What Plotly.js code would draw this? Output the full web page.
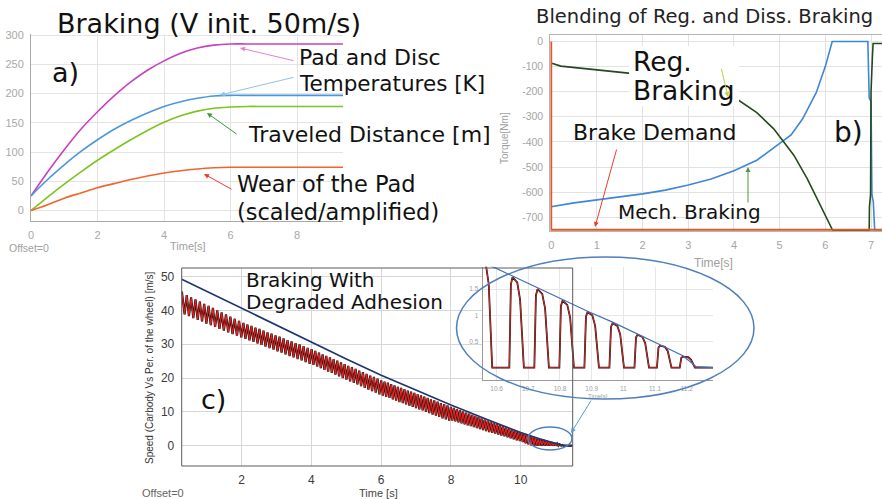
<!DOCTYPE html>
<html>
<head>
<meta charset="utf-8">
<script src="https://cdn.plot.ly/plotly-3.0.1.min.js"></script>
<style>html,body{margin:0;padding:0;background:#fff;}#chart{width:882px;height:499px;}</style>
</head>
<body>
<div id="chart"></div>
<script>
// ---------- Panel a) Braking (V init. 50m/s) ----------
const aTime = [0, 0.5, 1, 1.5, 2, 2.5, 3, 3.5, 4, 4.5, 5, 5.5, 6, 6.5, 7, 8, 9.38];
const aPadTemp = [25, 66, 104, 139, 169, 196, 220, 240, 256, 269, 278, 283, 285, 285, 285, 285, 285];
const aDiscTemp = [25, 53, 78, 101, 121, 139, 154, 167, 178, 186, 192, 196, 197, 197, 197, 197, 197];
const aDistance = [0, 23, 45, 66, 86, 104, 121, 137, 151, 162, 170, 175, 177, 178, 178, 178, 178];
const aWear = [0, 10, 21, 30, 39, 46, 53, 59, 64, 68, 71, 73, 74, 74, 74, 74, 74];
const aTicksX = [0, 2, 4, 6, 8];
const aTicksY = [0, 50, 100, 150, 200, 250, 300];

// ---------- Panel b) Blending of Reg. and Diss. Braking ----------
const bDemandT = [0, 0, 7.24];
const bDemandV = [0, -750, -750];
const bMechT = [0, 0.03, 0.5, 1, 1.5, 2, 2.5, 3, 3.5, 4, 4.5, 5, 5.25, 5.5, 5.8, 6.0, 6.15, 6.93, 6.96, 7.0, 7.02, 7.05, 7.08, 7.24];
const bMechV = [-660, -657, -643, -631, -620, -607, -592, -572, -548, -515, -473, -407, -372, -309, -204, -99, 0, 0, -225, -240, -610, -640, -750, -750];
const bRegT = [0, 0.03, 0.21, 0.5, 0.87, 1.2, 1.74, 2.2, 2.7, 3.2, 3.6, 4.07, 4.5, 4.87, 5.31, 5.6, 5.89, 6.14, 6.16, 6.96, 6.965, 6.99, 7.0, 7.03, 7.045, 7.24];
const bRegV = [-85, -88, -98, -103, -111, -117, -127, -140, -155, -175, -198, -230, -283, -348, -453, -545, -651, -742, -752, -752, -660, -610, -200, -60, -8, -8];
const bTicksX = [0, 1, 2, 3, 4, 5, 6, 7];
const bTicksY = [0, -100, -200, -300, -400, -500, -600, -700];
const bTickTextY = ['0', '-100', '-200', '-300', '-400', '-500', '-600', '-700'];

// ---------- Panel c) Braking with degraded adhesion ----------
const cCarbodyT = [0.28, 1, 2, 3, 4, 5, 6, 7, 8, 9, 10, 10.56, 11.0, 11.23, 11.49];
const cCarbodyV = [49.2, 45.6, 40.5, 35.5, 30.5, 25.6, 20.8, 16.3, 12.0, 7.9, 3.9, 2.0, 0.72, 0.02, 0];
const cWheelT = [
  0.285, 0.363, 0.425, 0.488, 0.550, 0.613, 0.675, 0.738, 0.800, 0.863, 0.925, 0.988, 1.050, 1.113, 1.175, 1.238, 1.300, 1.363, 1.425, 1.488, 1.550, 1.613, 1.675, 1.738, 1.800, 1.863, 1.925, 1.988,
  2.050, 2.108, 2.165, 2.223, 2.280, 2.338, 2.395, 2.453, 2.510, 2.568, 2.625, 2.683, 2.740, 2.798, 2.855, 2.913, 2.970, 3.028, 3.085, 3.143, 3.200, 3.258, 3.315, 3.373, 3.430, 3.488, 3.545, 3.603, 3.660, 3.718, 3.775, 3.833, 3.890, 3.948,
  4.005, 4.058, 4.110, 4.163, 4.215, 4.268, 4.320, 4.373, 4.425, 4.478, 4.530, 4.583, 4.635, 4.688, 4.740, 4.793, 4.845, 4.898, 4.950, 5.003, 5.055, 5.108, 5.160, 5.213, 5.265, 5.318, 5.370, 5.423, 5.475, 5.528, 5.580, 5.633, 5.685, 5.738, 5.790, 5.843, 5.895, 5.948,
  6.000, 6.048, 6.095, 6.143, 6.190, 6.238, 6.285, 6.333, 6.380, 6.428, 6.475, 6.523, 6.570, 6.618, 6.665, 6.713, 6.760, 6.808, 6.855, 6.903, 6.950, 6.998, 7.045, 7.093, 7.140, 7.188, 7.235, 7.283, 7.330, 7.378, 7.425, 7.473, 7.520, 7.568, 7.615, 7.663, 7.710, 7.758, 7.805, 7.853, 7.900, 7.948,
  7.995, 8.039, 8.083, 8.127, 8.171, 8.215, 8.259, 8.303, 8.347, 8.391, 8.435, 8.479, 8.523, 8.567, 8.611, 8.655, 8.699, 8.743, 8.787, 8.831, 8.875, 8.919, 8.963, 9.007, 9.051, 9.095, 9.139, 9.183, 9.227, 9.271, 9.315, 9.359, 9.403, 9.447, 9.491, 9.535, 9.579, 9.623, 9.667, 9.711, 9.755, 9.799, 9.843, 9.887, 9.931, 9.975,
  10.019, 10.059, 10.099, 10.139, 10.179, 10.219, 10.259, 10.299, 10.339, 10.379, 10.419, 10.459, 10.499, 10.539, 10.568, 10.61, 10.650, 10.69, 10.729, 10.77, 10.808, 10.85, 10.887, 10.93, 10.966, 11.0, 11.045, 11.08, 11.116, 11.16, 11.188, 11.23, 11.49
];
const cWheelV = [
  45.5, 38.8, 44.5, 38.3, 43.8, 37.7, 43.2, 37.2, 42.6, 36.7, 41.9, 36.1, 41.3, 35.6, 40.7, 35.1, 40.0, 34.5, 39.4, 34.0, 38.8, 33.5, 38.1, 33.0, 37.5, 32.5, 36.9, 32.0,
  36.3, 31.6, 35.8, 31.1, 35.4, 30.7, 34.9, 30.2, 34.5, 29.8, 34.0, 29.3, 33.5, 28.8, 33.1, 28.4, 32.6, 27.9, 32.2, 27.5, 31.7, 27.0, 31.2, 26.5, 30.8, 26.1, 30.3, 25.6, 29.9, 25.2, 29.4, 24.7, 28.9, 24.2,
  28.5, 23.9, 28.0, 23.4, 27.5, 22.9, 27.0, 22.4, 26.5, 21.9, 26.1, 21.5, 25.6, 21.0, 25.1, 20.5, 24.6, 20.0, 24.1, 19.5, 23.6, 19.0, 23.2, 18.6, 22.7, 18.1, 22.2, 17.6, 21.7, 17.1, 21.2, 16.6, 20.7, 16.1, 20.3, 15.7, 19.8, 15.2,
  19.3, 14.8, 18.9, 14.4, 18.6, 14.1, 18.2, 13.7, 17.8, 13.3, 17.4, 12.9, 17.1, 12.6, 16.7, 12.2, 16.3, 11.8, 16.0, 11.5, 15.6, 11.1, 15.2, 10.7, 14.9, 10.4, 14.5, 10.0, 14.1, 9.6, 13.7, 9.2, 13.4, 8.9, 13.0, 8.5, 12.6, 8.1, 12.3, 7.8, 11.9, 7.4,
  11.5, 7.4, 11.2, 7.2, 10.8, 6.9, 10.5, 6.6, 10.1, 6.3, 9.8, 6.0, 9.5, 5.8, 9.1, 5.5, 8.8, 5.2, 8.4, 4.9, 8.1, 4.6, 7.7, 4.3, 7.4, 4.0, 7.1, 3.8, 6.8, 3.6, 6.4, 3.3, 6.1, 3.0, 5.8, 2.8, 5.4, 2.5, 5.1, 2.2, 4.8, 1.9, 4.5, 1.6, 4.2, 1.4,
  3.8, 1.1, 3.5, 0.7, 3.2, 0.4, 2.9, 0.1, 2.7, 0, 2.4, 0, 2.1, 0, 1.95, 0, 1.73, 0, 1.50, 0, 1.28, 0, 1.06, 0, 0.85, 0, 0.63, 0, 0.42, 0, 0.21, 0, 0
];
const cTicksX = [2, 4, 6, 8, 10];
const cTicksY = [0, 10, 20, 30, 40, 50];

// ---------- Zoomed inset (end of braking) ----------
const zWheelT = [
  10.556, 10.566, 10.575, 10.582, 10.586,
  10.640, 10.645, 10.650, 10.665, 10.674, 10.682, 10.686,
  10.719, 10.724, 10.729, 10.744, 10.753, 10.761, 10.765,
  10.798, 10.803, 10.808, 10.823, 10.832, 10.840, 10.844,
  10.877, 10.882, 10.887, 10.902, 10.911, 10.919, 10.923,
  10.956, 10.961, 10.966, 10.981, 10.990, 10.998, 11.002,
  11.035, 11.040, 11.045, 11.060, 11.069, 11.077, 11.081,
  11.106, 11.111, 11.116, 11.131, 11.140, 11.148, 11.152,
  11.178, 11.183, 11.188, 11.205, 11.214, 11.222, 11.226,
  11.283
];
const zWheelV = [
  2.05, 1.97, 1.60, 0.50, 0,
  0, 1.59, 1.73, 1.63, 1.30, 0.43, 0,
  0, 1.38, 1.50, 1.41, 1.13, 0.38, 0,
  0, 1.18, 1.28, 1.20, 0.96, 0.32, 0,
  0, 0.98, 1.06, 1.00, 0.80, 0.27, 0,
  0, 0.78, 0.85, 0.80, 0.64, 0.21, 0,
  0, 0.58, 0.63, 0.59, 0.47, 0.16, 0,
  0, 0.39, 0.42, 0.40, 0.32, 0.11, 0,
  0, 0.19, 0.21, 0.20, 0.15, 0.05, 0,
  0
];
const zCarbodyT = [10.556, 10.650, 10.729, 10.808, 10.887, 10.966, 11.045, 11.116, 11.188, 11.23, 11.283];
const zCarbodyV = [2.02, 1.75, 1.52, 1.30, 1.08, 0.87, 0.65, 0.44, 0.23, 0.02, 0];
const zTicksX = [10.6, 10.7, 10.8, 10.9, 11, 11.1, 11.2];
const zTicksY = [0.5, 1, 1.5];

// ---------- helpers (pixel -> paper) ----------
const W = 882, H = 499;
const X = p => p / W;
const Y = p => 1 - p / H;

const traces = [
  {x: aTime, y: aPadTemp, xaxis: 'x', yaxis: 'y', mode: 'lines', line: {color: '#c642c0', width: 1.6, shape: 'spline'}},
  {x: aTime, y: aDiscTemp, xaxis: 'x', yaxis: 'y', mode: 'lines', line: {color: '#4b97dc', width: 1.6, shape: 'spline'}},
  {x: aTime, y: aDistance, xaxis: 'x', yaxis: 'y', mode: 'lines', line: {color: '#7cc41f', width: 1.6, shape: 'spline'}},
  {x: aTime, y: aWear, xaxis: 'x', yaxis: 'y', mode: 'lines', line: {color: '#f0642e', width: 1.6, shape: 'spline'}},

  {x: bMechT, y: bMechV, xaxis: 'x2', yaxis: 'y2', mode: 'lines', line: {color: '#3f86d6', width: 1.6}},
  {x: bRegT, y: bRegV, xaxis: 'x2', yaxis: 'y2', mode: 'lines', line: {color: '#244a1c', width: 1.6}},
  {x: bDemandT, y: bDemandV, xaxis: 'x2', yaxis: 'y2', mode: 'lines', line: {color: '#dc5a26', width: 2}},

  {x: cWheelT, y: cWheelV, xaxis: 'x3', yaxis: 'y3', mode: 'lines', line: {color: '#111111', width: 2.2}},
  {x: cWheelT, y: cWheelV, xaxis: 'x3', yaxis: 'y3', mode: 'lines', line: {color: '#e8231f', width: 1.1}},
  {x: cCarbodyT, y: cCarbodyV, xaxis: 'x3', yaxis: 'y3', mode: 'lines', line: {color: '#1d3573', width: 1.6}},

  {x: zWheelT, y: zWheelV, xaxis: 'x4', yaxis: 'y4', mode: 'lines', line: {color: '#2a1010', width: 1.8}},
  {x: zWheelT, y: zWheelV, xaxis: 'x4', yaxis: 'y4', mode: 'lines', line: {color: '#d8302a', width: 0.9}},
  {x: zCarbodyT, y: zCarbodyV, xaxis: 'x4', yaxis: 'y4', mode: 'lines', line: {color: '#3e6fb5', width: 1.2}}
];

const lightTick = {family: 'Liberation Sans, Arial, sans-serif', size: 11, color: '#a8a8a8'};
const hidTicks = {ticks: 'outside', ticklen: 4, tickcolor: 'rgba(0,0,0,0)', zeroline: false, showgrid: true};

const layout = {
  width: W, height: H,
  margin: {l: 0, r: 0, t: 0, b: 0},
  paper_bgcolor: '#ffffff', plot_bgcolor: '#ffffff',
  showlegend: false,
  xaxis: Object.assign({domain: [X(31), X(343)], range: [0, 9.38], anchor: 'y', tickvals: aTicksX,
    gridcolor: '#e4e4e4', showline: true, linecolor: '#a9a9a9', tickfont: lightTick}, hidTicks),
  yaxis: Object.assign({domain: [Y(221), Y(34)], range: [-18, 302], anchor: 'x', tickvals: aTicksY,
    gridcolor: '#e4e4e4', showline: true, linecolor: '#a9a9a9', tickfont: lightTick}, hidTicks),

  xaxis2: Object.assign({domain: [X(550.3), 1], range: [-0.02, 7.24], anchor: 'y2', tickvals: bTicksX,
    gridcolor: '#e2e2e2', showline: true, mirror: true, linecolor: '#b5b5b5', tickfont: {family: 'Liberation Sans, Arial, sans-serif', size: 11, color: '#a5a5a5'}}, hidTicks),
  yaxis2: Object.assign({domain: [Y(231), Y(35)], range: [-755, 26], anchor: 'x2', tickvals: bTicksY, ticktext: bTickTextY,
    gridcolor: '#e2e2e2', showline: true, linecolor: '#b5b5b5', tickfont: {family: 'Liberation Sans, Arial, sans-serif', size: 10.5, color: '#a5a5a5'}}, hidTicks),

  xaxis3: Object.assign({domain: [X(181.7), X(572.7)], range: [0.28, 11.49], anchor: 'y3', tickvals: cTicksX,
    gridcolor: '#d6d6d6', showline: false, tickfont: {family: 'Liberation Sans, Arial, sans-serif', size: 12, color: '#3c3c3c'}}, hidTicks, {ticklen: 3}),
  yaxis3: Object.assign({domain: [Y(466), Y(268)], range: [-6, 52.5], anchor: 'x3', tickvals: cTicksY,
    gridcolor: '#d6d6d6', showline: false, tickfont: {family: 'Liberation Sans, Arial, sans-serif', size: 12, color: '#3c3c3c'}}, hidTicks),

  xaxis4: {domain: [X(482.7), X(713)], range: [10.556, 11.283], anchor: 'y4', tickvals: zTicksX,
    showgrid: true, gridcolor: '#e6e6e6', zeroline: false, showline: true, linecolor: '#9a9a9a',
    ticks: 'outside', ticklen: 2, tickcolor: 'rgba(0,0,0,0)',
    tickfont: {family: 'Liberation Sans, Arial, sans-serif', size: 6.5, color: '#a0a0a0'}},
  yaxis4: {domain: [Y(380), Y(266.7)], range: [-0.235, 1.93], anchor: 'x4', tickvals: zTicksY,
    showgrid: true, gridcolor: '#e6e6e6', zeroline: false, showline: true, linecolor: '#9a9a9a',
    ticks: 'outside', ticklen: 2, tickcolor: 'rgba(0,0,0,0)',
    tickfont: {family: 'Liberation Sans, Arial, sans-serif', size: 6.5, color: '#a0a0a0'}},

  shapes: [
    // white box behind the "Reg. Braking" label (hides the curve there, as in the reference)
    {type: 'rect', xref: 'paper', yref: 'paper', x0: X(629), x1: X(739), y0: Y(106), y1: Y(46),
      line: {width: 0}, fillcolor: '#ffffff', layer: 'above'},
    {type: 'rect', xref: 'paper', yref: 'paper', x0: X(181.7), x1: X(572.7), y0: Y(466), y1: Y(268),
      line: {color: '#5a5a5a', width: 1}, layer: 'above'},
    {type: 'circle', xref: 'paper', yref: 'paper', x0: X(456.5), x1: X(754), y0: Y(399), y1: Y(257),
      line: {color: '#4f7fbd', width: 1.5}, layer: 'above'},
    {type: 'circle', xref: 'paper', yref: 'paper', x0: X(528), x1: X(572), y0: Y(450), y1: Y(427),
      line: {color: '#4f7fbd', width: 1.5}, layer: 'above'}
  ],
  annotations: []
};

const big = {family: 'DejaVu Sans, Open Sans, sans-serif', color: '#111111'};
function txt(x, y, text, size, opts) {
  return Object.assign({xref: 'paper', yref: 'paper', x: X(x), y: Y(y), text: text, showarrow: false,
    xanchor: 'left', yanchor: 'middle', align: 'left', font: Object.assign({}, big, {size: size})}, opts || {});
}
function arrow(hx, hy, tx, ty, color, width) {
  return {xref: 'paper', yref: 'paper', x: X(hx), y: Y(hy), ax: tx - hx, ay: ty - hy, text: '',
    showarrow: true, arrowhead: 2, arrowsize: 1, arrowwidth: width || 1, arrowcolor: color};
}
const grayFont = s => ({family: 'Liberation Sans, Arial, sans-serif', size: s, color: '#a0a0a0'});

layout.annotations.push(
  // panel a
  txt(209, 23, 'Braking (V init. 50m/s)', 27, {xanchor: 'center'}),
  txt(50, 72, 'a)', 27),
  txt(297, 57, 'Pad and Disc', 22),
  txt(297, 84, 'Temperatures [K]', 21.5),
  txt(246, 135, 'Traveled Distance [m]', 22),
  txt(235, 184, 'Wear of the Pad', 22.5),
  txt(235, 212, '(scaled/amplified)', 22.5),
  arrow(240, 48, 295, 61, '#e27fd6'),
  arrow(220, 95, 295, 77, '#8dc0ec'),
  arrow(207, 113, 238, 135, '#3c9a3c'),
  arrow(204, 174, 233, 190, '#ee3b2b'),
  txt(29, 248, 'Offset=0', 10.5, {xanchor: 'center', font: grayFont(10.5)}),
  txt(188, 246, 'Time[s]', 11, {xanchor: 'center', font: grayFont(11)}),

  // panel b
  txt(704, 16, 'Blending of Reg. and Diss. Braking', 19.5, {xanchor: 'center', font: Object.assign({}, big, {size: 19.5, color: '#222'})}),
  txt(631, 61, 'Reg.', 26.5),
  txt(631, 91, 'Braking', 26.5),
  txt(571, 133, 'Brake Demand', 22),
  txt(616, 212, 'Mech. Braking', 20),
  txt(832, 133, 'b)', 28),
  arrow(728, 97, 721, 67, '#b9d43a'),
  arrow(595, 227, 617, 148, '#ee3b2b'),
  arrow(748, 167, 748, 204, '#4f9a3a'),
  txt(504, 138, 'Torque[Nm]', 10, {xanchor: 'center', textangle: -90, font: grayFont(10)}),
  txt(713, 263, 'Time[s]', 12, {xanchor: 'center', font: grayFont(12)}),

  // panel c
  txt(244, 280, 'Braking With', 20),
  txt(244, 302, 'Degraded Adhesion', 20),
  txt(199, 399, 'c)', 27),
  txt(149, 368, 'Speed (Carbody Vs Per. of the wheel) [m/s]', 10, {xanchor: 'center', textangle: -90,
    font: {family: 'Liberation Sans, Arial, sans-serif', size: 10, color: '#333'}}),
  txt(378, 492.5, 'Time [s]', 11, {xanchor: 'center', font: {family: 'Liberation Sans, Arial, sans-serif', size: 11, color: '#444'}}),
  txt(163, 493, 'Offset=0', 11, {xanchor: 'center', font: {family: 'Liberation Sans, Arial, sans-serif', size: 11, color: '#666'}}),
  arrow(571, 433, 592, 399, '#5b9bd5'),
  txt(598, 396, 'Time[s]', 6, {xanchor: 'center', font: grayFont(6)})
);

Plotly.newPlot('chart', traces, layout, {displayModeBar: false, staticPlot: true});
</script>
</body>
</html>
